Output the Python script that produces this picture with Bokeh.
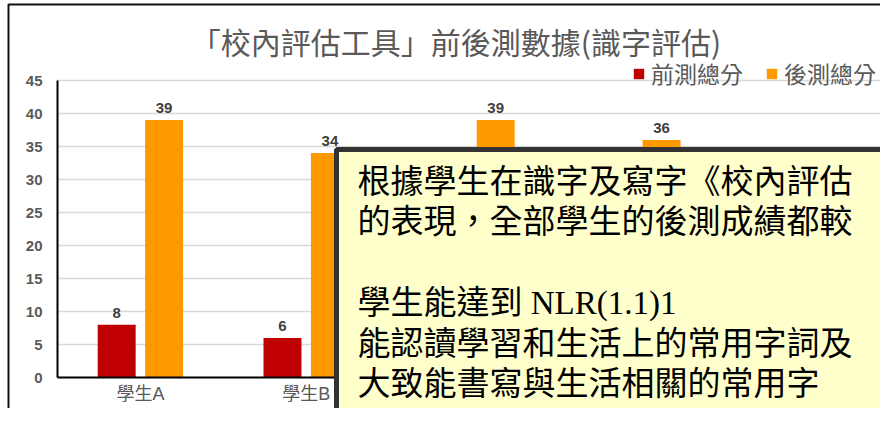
from bokeh.plotting import figure
from bokeh.models import (ColumnDataSource, Range1d, LabelSet, Legend, LegendItem,
                          BoxAnnotation, Label, FixedTicker)
from bokeh.transform import dodge
from bokeh.core.properties import value
from bokeh.embed import file_html
from bokeh.resources import INLINE

# ---- data ----
students = ["學生A", "學生B", "學生C", "學生D", "學生E"]
pre_scores = [8, 6, 10, 7, 5]        # C, D, E hidden behind the note box (estimated)
post_scores = [39, 34, 39, 36, 30]   # E hidden behind the note box (estimated)
series_names = ["前測總分", "後測總分"]
y_ticks = [0, 5, 10, 15, 20, 25, 30, 35, 40, 45]
title_text = "「校內評估工具」前後測數據(識字評估)"
note_lines = [
    "根據學生在識字及寫字《校內評估",
    "的表現，全部學生的後測成績都較",
    "",
    "學生能達到 NLR(1.1)1",
    "能認讀學習和生活上的常用字詞及",
    "大致能書寫與生活相關的常用字",
]

# ---- layout (pixels) ----
W, H = 880, 408
PLOT_LEFT, PLOT_BOTTOM = 57, 377      # where the axes cross
CAT_PX = 165.8                        # px per category
UNIT_PX = 6.6                         # px per score point
CJK = "Noto Sans CJK TC"
GRAY = "#595959"

n = len(students)
xs = [i + 0.5 for i in range(n)]
src = ColumnDataSource(dict(x=xs, pre=pre_scores, post=post_scores,
                            pre_lbl=[str(v) for v in pre_scores],
                            post_lbl=[str(v) for v in post_scores]))

p = figure(width=W, height=H, output_backend="svg", toolbar_location=None,
           x_range=Range1d(-PLOT_LEFT / CAT_PX, (W - PLOT_LEFT) / CAT_PX),
           y_range=Range1d(-(H - PLOT_BOTTOM) / UNIT_PX, PLOT_BOTTOM / UNIT_PX),
           min_border=0, min_border_left=0, min_border_right=0,
           min_border_top=0, min_border_bottom=0)
p.outline_line_color = None
p.background_fill_color = "white"
p.border_fill_color = "white"

off = 0.143
bw = 0.229
r_pre = p.vbar(x=dodge("x", -off), top="pre", width=bw, source=src,
               fill_color="#C00000", line_color=None)
r_post = p.vbar(x=dodge("x", off), top="post", width=bw, source=src,
                fill_color="#FF9900", line_color=None)

for col, lbl, o in (("pre", "pre_lbl", -off), ("post", "post_lbl", off)):
    p.add_layout(LabelSet(x=dodge("x", o), y=col, text=lbl, source=src,
                          text_align="center", text_baseline="bottom", y_offset=7,
                          text_font=value("Liberation Sans"), text_font_style="bold",
                          text_font_size="15px", text_color="#404040"))

# axes (crossing at the origin)
p.yaxis.fixed_location = 0
p.yaxis.bounds = (0, y_ticks[-1])
p.yaxis.ticker = FixedTicker(ticks=y_ticks)
p.yaxis.major_tick_line_color = None
p.yaxis.minor_tick_line_color = None
p.yaxis.axis_line_color = "black"
p.yaxis.axis_line_width = 2
p.yaxis.major_label_text_font = "Liberation Sans"
p.yaxis.major_label_text_font_style = "bold"
p.yaxis.major_label_text_font_size = "15px"
p.yaxis.major_label_text_color = GRAY
p.yaxis.major_label_standoff = 9

p.xaxis.fixed_location = 0
p.xaxis.bounds = (0, n)
p.xaxis.ticker = FixedTicker(ticks=xs)
p.xaxis.major_label_overrides = {x: s for x, s in zip(xs, students)}
p.xaxis.major_tick_line_color = None
p.xaxis.minor_tick_line_color = None
p.xaxis.axis_line_color = "black"
p.xaxis.axis_line_width = 2
p.xaxis.major_label_text_font = "Liberation Sans, " + CJK
p.xaxis.major_label_text_font_size = "18px"
p.xaxis.major_label_text_color = GRAY
p.xaxis.major_label_standoff = 0

p.xgrid.grid_line_color = None
p.ygrid.grid_line_color = "#D9D9D9"
p.ygrid.grid_line_width = 1.5
try:
    p.ygrid.cross_bounds = (0, n)
except Exception:
    p.add_layout(BoxAnnotation(left=-20, right=PLOT_LEFT - 1, top=-20, bottom=H + 20,
                               left_units="canvas", right_units="canvas",
                               top_units="canvas", bottom_units="canvas",
                               fill_color="white", fill_alpha=1, line_color=None,
                               level="underlay"))

# title
p.add_layout(Label(x=455.5, y=40, x_units="canvas", y_units="canvas", text=title_text,
                   text_align="center", text_baseline="middle",
                   text_font=CJK, text_font_size="30px", text_color=GRAY))

legend = Legend(items=[LegendItem(label=series_names[0], renderers=[r_pre]),
                       LegendItem(label=series_names[1], renderers=[r_post])],
                orientation="horizontal", location=(632, H - 90),
                glyph_width=13, glyph_height=13, label_standoff=6, spacing=22,
                padding=0, margin=0, border_line_color=None, background_fill_alpha=0,
                label_text_font=CJK, label_text_font_size="23px", label_text_color=GRAY)
p.add_layout(legend, "center")

# outer chart border
p.add_layout(BoxAnnotation(left=8, right=W + 20, top=4, bottom=422,
                           left_units="canvas", right_units="canvas",
                           top_units="canvas", bottom_units="canvas",
                           fill_alpha=0, line_color="#111111", line_alpha=1, line_width=2))

# note box overlay
p.add_layout(BoxAnnotation(left=336, right=W + 30, top=149, bottom=H + 30,
                           left_units="canvas", right_units="canvas",
                           top_units="canvas", bottom_units="canvas",
                           fill_color="#FFFFCC", fill_alpha=1,
                           line_color="#333333", line_alpha=1, line_width=5))

line_y = [181, 221.5, 262, 302.5, 343, 383.5]
for txt, yy in zip(note_lines, line_y):
    if not txt:
        continue
    p.add_layout(Label(x=357, y=yy, x_units="canvas", y_units="canvas", text=txt,
                       text_baseline="middle", text_align="left",
                       text_font="Liberation Serif, " + CJK, text_font_size="33px",
                       text_color="#000000"))

open("out.html", "w").write(file_html(p, INLINE))
